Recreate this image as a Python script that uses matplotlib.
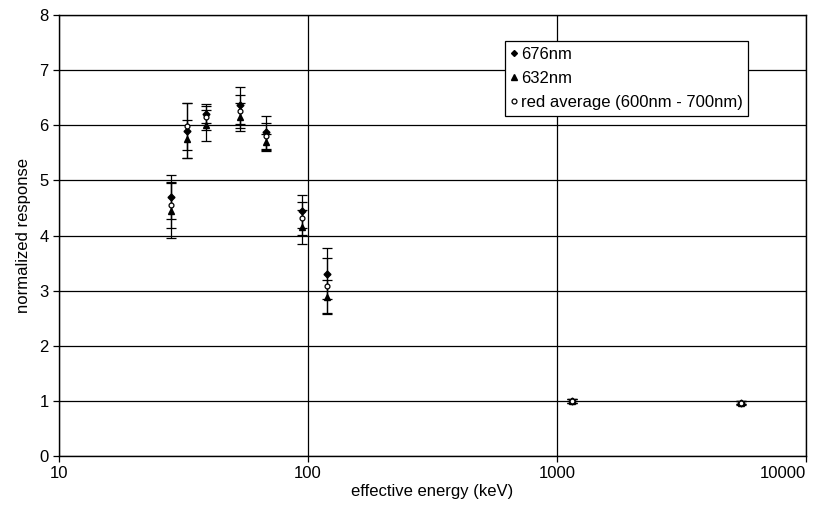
import matplotlib
matplotlib.use("Agg")
import matplotlib.pyplot as plt
from matplotlib.lines import Line2D
import numpy as np

plt.rcParams['font.family'] = ['Liberation Sans', 'DejaVu Sans']

# effective energy (keV)
energy = [28.2, 32.7, 38.9, 53.3, 67.9, 94.6, 119, 1150, 5500]

# normalized response per series, with error-bar half widths
resp_676 = [4.70, 5.90, 6.20, 6.36, 5.87, 4.44, 3.31, 1.00, 0.97]
err_676 = [0.40, 0.50, 0.15, 0.33, 0.30, 0.30, 0.47, 0.03, 0.03]
resp_632 = [4.45, 5.75, 6.00, 6.15, 5.69, 4.16, 2.89, 1.00, 0.96]
err_632 = [0.50, 0.35, 0.28, 0.25, 0.16, 0.31, 0.31, 0.03, 0.03]
resp_avg = [4.55, 5.98, 6.15, 6.25, 5.80, 4.31, 3.09, 1.00, 0.97]
err_avg = [0.42, 0.42, 0.23, 0.30, 0.25, 0.30, 0.50, 0.03, 0.03]

fig = plt.figure(figsize=(8.38, 5.11), dpi=100)
ax = fig.add_axes([0.0704, 0.1076, 0.8914, 0.863])

common = dict(linestyle='none', ecolor='black', elinewidth=0.9, capsize=3.5, capthick=0.9)
ax.errorbar(energy, resp_676, yerr=err_676, marker='D', markersize=3.5,
            color='black', **common)
ax.errorbar(energy, resp_632, yerr=err_632, marker='^', markersize=4.5,
            color='black', **common)
ax.errorbar(energy, resp_avg, yerr=err_avg, marker='o', markersize=3.5,
            markerfacecolor='white', markeredgecolor='black', markeredgewidth=0.9,
            color='black', **common)

ax.set_xscale('log')
ax.set_xlim(10, 10000)
ax.set_ylim(0, 8)
ax.set_yticks(range(0, 9))
ax.set_xticks([10, 100, 1000, 10000])
ax.set_xticklabels(['10', '100', '1000', '10000'])
ax.get_xticklabels()[-1].set_horizontalalignment('right')
ax.xaxis.set_minor_locator(matplotlib.ticker.NullLocator())
ax.grid(True, which='major', color='black', linewidth=0.9)
ax.set_axisbelow(True)
for s in ax.spines.values():
    s.set_linewidth(1.0)
ax.tick_params(labelsize=12, length=4, width=0.9, color='black')

ax.set_xlabel('effective energy (keV)', fontsize=12, labelpad=2)
ax.set_ylabel('normalized response', fontsize=12, labelpad=6)

handles = [
    Line2D([], [], linestyle='none', marker='D', markersize=3, color='black'),
    Line2D([], [], linestyle='none', marker='^', markersize=4, color='black'),
    Line2D([], [], linestyle='none', marker='o', markersize=3.5, markerfacecolor='white',
           markeredgecolor='black', markeredgewidth=0.9),
]
labels = ['676nm', '632nm', 'red average (600nm - 700nm)']
leg = ax.legend(handles, labels, loc='upper left', bbox_to_anchor=(0.597, 0.941),
                fontsize=12, frameon=True, fancybox=False, edgecolor='black',
                framealpha=1, handlelength=0.4, handletextpad=0.2, borderpad=0.35,
                labelspacing=0.55, borderaxespad=0)
leg.get_frame().set_linewidth(0.9)

fig.savefig('out.png', dpi=100)
